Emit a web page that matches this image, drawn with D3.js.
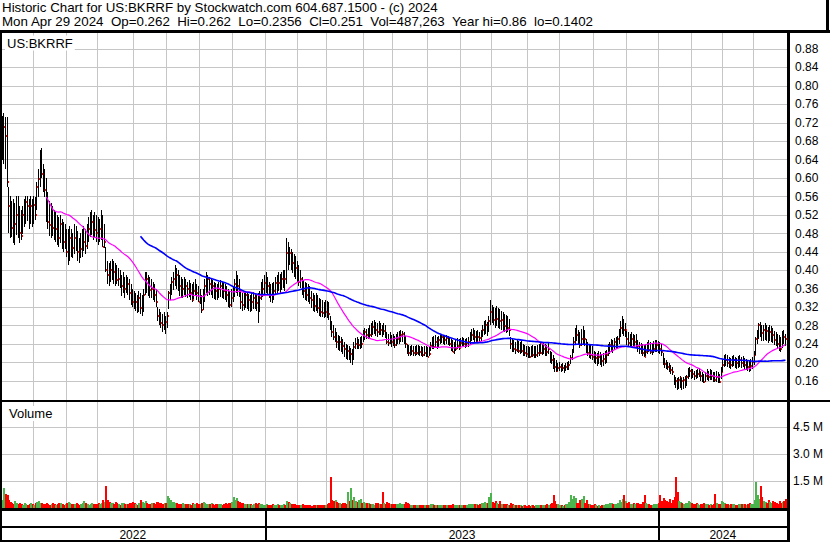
<!DOCTYPE html>
<html>
<head>
<meta charset="utf-8">
<script src="https://cdn.jsdelivr.net/npm/d3@7"></script>
<style>
  body { margin: 0; background: #fff; }
  svg { display: block; font-family: Arial, "Liberation Sans", sans-serif; }
  text { white-space: pre; }
</style>
</head>
<body>
<svg id="chart" width="830" height="543"></svg>
<script>
// trading calendar (first and last bar, market holidays)
const firstDay = "2022-05-02";
const lastDay = "2024-04-29";
const holidays = ["2022-05-30","2022-06-20","2022-07-04","2022-09-05","2022-11-24","2022-12-26",
  "2023-01-02","2023-01-16","2023-02-20","2023-04-07","2023-05-29","2023-06-19","2023-07-04",
  "2023-09-04","2023-11-23","2023-12-25","2024-01-01","2024-01-15","2024-02-19","2024-03-29"];

// daily prices, in thousandths of a dollar
const high = [
  725,735,740,732,732,580,560,550,555,545, 560,560,540,530,540,555,560,560,555,560,
  555,560,558,590,620,660,665,630,620,600, 570,550,545,540,530,525,520,515,520,510,
  505,500,490,490,495,490,480,500,495,485, 470,480,490,495,490,500,515,525,530,520,
  525,520,515,510,530,520,500,450,420,415, 420,425,420,415,410,405,400,390,395,385,
  390,385,380,370,360,355,350,345,355,350, 345,360,395,395,390,385,380,375,370,360,
  320,315,310,305,310,300,310,355,370,385, 395,410,405,400,390,385,380,385,380,375,
  378,372,370,375,380,370,365,360,345,360, 380,396,390,385,380,378,375,372,370,375,
  378,375,372,370,365,360,355,360,365,380, 398,390,380,355,350,352,355,350,348,345,
  350,352,350,345,350,355,375,380,390,396, 385,375,370,372,375,385,390,396,392,395,
  400,400,470,460,450,445,440,435,430,420, 410,400,385,378,375,372,370,365,355,350,
  345,350,345,340,338,335,330,335,332,330, 300,290,280,275,265,260,258,255,250,245,
  240,238,235,232,230,245,252,255,250,255, 258,270,275,272,275,280,285,290,292,288,
  285,290,285,282,285,280,265,262,265,260, 262,258,262,265,268,270,268,265,258,240,
  238,236,237,235,236,237,238,236,235,234, 236,235,233,235,245,255,258,260,255,258,
  260,262,260,258,260,258,255,250,248,245, 250,252,250,252,254,252,250,252,255,265,
  272,275,270,268,270,265,270,280,290,292, 288,300,335,325,320,318,322,318,315,312,
  310,305,302,300,295,255,250,248,245,248, 247,245,246,240,238,236,235,234,236,237,
  235,236,238,240,242,240,242,240,238,242, 225,222,215,210,205,198,200,196,198,195,
  198,200,202,215,228,255,275,280,270,265, 272,278,270,250,245,240,238,235,225,222,
  220,225,222,218,220,225,227,240,245,250, 248,252,255,258,272,290,300,295,285,268,
  265,262,266,262,260,262,248,245,242,240, 238,240,245,248,245,242,246,248,249,247,
  245,240,220,210,205,200,198,195,190,172, 168,165,168,170,166,168,170,172,188,190,
  186,185,182,184,186,188,180,178,175,180, 185,182,186,184,180,178,182,180,175,190,
  205,215,218,215,212,210,214,216,212,210, 213,215,212,214,210,208,205,204,208,212,
  225,255,270,285,288,280,282,286,280,276, 280,278,275,268,265,262,260,255,268,270,
  262];
const low = [
  617,640,630,620,580,480,470,472,460,455, 475,470,460,465,480,495,500,505,490,500,
  495,500,508,530,560,580,600,570,560,505, 490,475,470,475,465,460,455,450,460,445,
  440,445,430,412,420,430,425,435,440,420, 415,425,430,440,435,445,460,470,475,465,
  470,462,455,460,465,450,448,395,370,365, 375,380,370,365,368,365,360,345,350,340,
  350,345,335,325,320,315,310,305,310,305, 300,310,345,350,345,340,338,335,330,320,
  290,280,275,265,270,262,275,315,335,345, 355,365,360,355,345,340,338,345,340,340,
  342,335,332,338,345,335,330,328,307,315, 330,350,345,345,345,340,338,335,335,340,
  342,340,338,335,330,322,318,320,330,340, 350,345,342,315,310,312,318,315,312,308,
  310,315,315,310,285,310,335,340,345,350, 345,340,330,328,335,345,350,355,350,355,
  360,355,370,400,410,400,395,385,380,375, 365,360,345,340,335,332,330,325,318,312,
  308,310,305,300,298,298,295,298,296,290, 270,255,248,245,230,228,225,222,218,212,
  208,205,205,200,196,205,228,230,228,230, 232,245,250,250,252,252,255,260,262,258,
  255,260,258,255,258,252,238,235,238,235, 236,233,235,238,240,245,244,240,232,218,
  215,214,215,213,214,215,216,214,213,212, 214,212,211,213,225,228,230,232,230,232,
  240,242,240,238,240,238,235,225,222,220, 225,228,226,232,234,232,230,232,234,240,
  245,248,245,244,245,243,246,255,260,262, 258,265,280,285,280,275,278,275,272,270,
  268,265,262,265,258,228,222,222,220,222, 221,220,220,215,214,212,210,210,212,212,
  210,211,213,215,218,216,218,215,214,218, 200,195,185,180,178,180,180,178,180,178,
  180,182,183,195,205,220,240,245,238,230, 235,240,235,220,215,210,208,205,198,195,
  192,196,194,190,192,196,198,215,218,222, 220,225,228,232,240,255,262,258,255,238,
  235,233,236,234,232,233,222,220,218,214, 212,214,218,222,218,216,220,222,224,222,
  220,215,195,188,185,182,178,176,172,150, 145,140,142,145,140,142,145,148,165,168,
  164,165,162,164,166,168,160,156,155,158, 162,160,163,162,158,156,158,156,155,165,
  178,190,192,190,188,186,190,192,189,186, 188,190,188,190,186,184,182,180,182,186,
  195,215,240,250,255,245,248,250,245,242, 246,244,242,238,235,230,225,222,232,240,
  236];
const close = [
  678,700,711,690,592,540,500,491,474,500, 520,513,480,475,520,530,548,540,530,540,
  535,541,520,580,597,620,608,590,573,515, 505,498,505,491,485,490,476,470,500,465,
  460,470,440,450,470,460,448,470,451,440, 433,445,451,460,453,470,490,500,505,490,
  487,480,472,490,500,451,460,400,390,378, 400,411,395,380,378,380,361,365,372,360,
  372,370,350,335,330,325,330,325,340,317, 320,345,389,380,370,357,360,350,345,330,
  300,292,285,280,290,288,300,351,360,375, 380,400,390,370,365,353,360,372,365,360,
  365,350,335,355,365,350,331,340,313,340, 365,375,380,370,372,365,360,355,350,360,
  365,358,355,350,345,335,324,340,350,370, 375,365,355,330,325,340,345,335,335,325,
  331,340,335,328,320,340,350,360,372,375, 365,360,345,341,355,372,375,372,372,380,
  385,380,437,436,437,425,415,410,404,390, 375,380,362,355,350,346,345,340,335,328,
  322,325,318,313,310,308,303,310,306,305, 285,265,256,260,245,240,245,241,235,230,
  222,225,215,218,212,234,240,235,238,245, 240,260,265,260,265,260,270,277,280,270,
  266,275,270,264,268,262,245,241,250,245, 240,237,245,250,255,260,262,250,240,225,
  220,222,225,220,218,220,225,222,218,216, 220,215,212,218,235,240,234,245,240,248,
  252,255,250,248,252,245,240,232,223,228, 230,235,232,241,245,240,237,242,245,255,
  260,262,256,258,255,252,258,270,277,280, 275,290,310,300,292,285,295,292,290,292,
  281,278,274,275,270,240,227,230,227,232, 225,228,225,225,220,218,215,212,218,215,
  212,215,220,222,220,225,228,227,222,230, 210,205,195,190,182,187,190,185,188,187,
  190,194,195,210,223,245,266,260,250,237, 250,255,250,235,220,225,216,212,209,210,
  205,212,205,204,208,212,215,230,237,240, 235,245,248,250,265,275,285,270,270,250,
  241,245,250,241,245,240,235,230,225,220, 212,222,230,227,223,225,230,234,238,235,
  228,222,205,197,195,190,185,183,180,162, 160,158,162,165,160,162,165,168,180,182,
  178,175,170,169,175,178,170,165,158,170, 172,168,175,170,165,162,168,165,158,180,
  195,209,205,198,200,195,202,205,201,198, 200,205,198,202,195,198,190,183,192,200,
  215,250,262,281,275,263,270,275,268,263, 265,268,260,248,245,240,235,230,263,255,
  251];
// daily volume, thousands of shares
const volume = [
  1300,450,1100,800,750,420,350,300,250,380,260,220,300,200,180,280,220,150,200,260,
  220,180,260,320,380,300,260,200,240,300,200,160,230,280,250,190,220,300,260,200,
  180,240,290,320,260,210,230,200,270,240,180,220,260,380,300,240,190,230,270,220,
  200,250,290,230,270,420,340,1250,450,340,300,260,240,320,280,220,180,260,300,210,
  240,200,280,300,340,260,220,180,290,450,320,280,380,300,240,210,260,300,220,340,
  360,300,260,240,300,270,650,550,420,340,320,300,260,240,210,230,280,220,200,250,
  220,190,260,240,210,270,230,200,300,340,280,240,220,200,260,230,190,210,240,220,
  200,180,230,260,220,270,300,340,600,450,550,380,320,300,260,240,220,200,230,210,
  190,220,260,200,300,240,210,180,170,200,170,150,190,220,180,160,210,190,150,170,
  200,180,380,330,270,230,250,210,190,170,180,160,200,170,150,140,180,160,130,170,
  150,140,180,160,190,170,150,140,210,260,1750,450,380,420,350,300,260,240,280,300,
  250,900,380,1100,450,600,380,350,420,480,300,350,280,260,300,250,220,200,180,260,
  300,220,250,900,280,240,350,280,240,220,200,240,220,200,280,240,200,220,320,260,
  210,180,160,150,170,140,160,180,150,140,170,160,150,180,210,240,190,170,150,160,
  140,160,180,150,170,140,160,190,210,180,160,150,170,140,160,180,150,170,200,220,
  230,200,250,210,190,230,260,290,330,300,280,600,850,350,300,400,280,250,380,220,
  240,220,200,190,170,280,240,190,160,140,170,150,130,160,140,120,150,130,140,160,
  130,150,140,170,160,190,180,160,200,190,240,300,700,400,250,200,180,150,130,160,
  200,250,350,700,500,650,550,300,280,450,500,650,300,420,250,200,180,160,200,150,
  130,160,120,140,180,200,220,250,300,260,220,200,250,300,450,350,500,700,400,300,
  350,250,200,300,220,280,300,250,200,350,700,300,250,200,180,160,200,220,250,300,
  750,400,550,450,400,350,500,300,450,600,1750,900,400,350,300,250,280,300,400,350,
  300,250,200,280,220,180,200,250,300,220,200,180,220,160,250,800,300,200,250,400,
  350,300,250,200,180,220,250,200,180,160,200,230,250,220,200,180,250,300,200,220,
  450,1450,700,500,1200,600,400,350,300,450,350,300,400,350,300,250,400,300,350,400,487];

const priceTicks = [0.16,0.20,0.24,0.28,0.32,0.36,0.40,0.44,0.48,0.52,0.56,0.60,0.64,0.68,0.72,0.76,0.80,0.84,0.88];
const volumeTicks = [1500, 3000, 4500];
const volumeTickLabels = ["1.5 M", "3.0 M", "4.5 M"];
const maPeriods = [30, 90];
const maColors = ["#ff00ff", "#0000ff"];
const symbol = "US:BKRRF";
const header1 = "Historic Chart for US:BKRRF by Stockwatch.com 604.687.1500 - (c) 2024";
const header2 = "Mon Apr 29 2024  Op=0.262  Hi=0.262  Lo=0.2356  Cl=0.251  Vol=487,263  Year hi=0.86  lo=0.1402";

// build trading days
const fmt = d3.timeFormat("%Y-%m-%d");
const parse = d3.timeParse("%Y-%m-%d");
const days = d3.timeDay.range(parse(firstDay), d3.timeDay.offset(parse(lastDay), 1))
  .filter(d => d.getDay() > 0 && d.getDay() < 6 && !holidays.includes(fmt(d)));

const W = 830, plotRight = 787;
const svg = d3.select("#chart");
svg.append("rect").attr("width", W).attr("height", 543).attr("fill", "#fff");

const x = d3.scaleLinear().domain([0, close.length - 1]).range([0.8, 785.5]);
const step = x(1) - x(0);
const yP = d3.scaleLinear().domain([160, 880]).range([380.8, 48.7]);
const yV = d3.scaleLinear().domain([0, 5000]).range([508, 418]);

// month starts
const monthStarts = days.map((d, i) => i).filter(i => i > 0 && days[i].getMonth() !== days[i - 1].getMonth());
const yearStarts = monthStarts.filter(i => days[i].getMonth() === 0);
const gx = i => Math.round(x(i) - step / 2) + 0.5;

const grid = svg.append("g").attr("stroke", "#c6c6c6").attr("stroke-width", 1).attr("shape-rendering", "crispEdges");
grid.selectAll(".hp").data(priceTicks).join("line")
  .attr("x1", 0).attr("x2", plotRight)
  .attr("y1", d => Math.round(yP(d * 1000)) + 0.5).attr("y2", d => Math.round(yP(d * 1000)) + 0.5);
grid.selectAll(".hv").data(volumeTicks).join("line")
  .attr("x1", 0).attr("x2", plotRight)
  .attr("y1", d => Math.round(yV(d)) + 0.5).attr("y2", d => Math.round(yV(d)) + 0.5);
grid.selectAll(".vp").data(monthStarts).join("line")
  .attr("x1", gx).attr("x2", gx).attr("y1", 32).attr("y2", 400);
grid.selectAll(".vv").data(monthStarts).join("line")
  .attr("x1", gx).attr("x2", gx).attr("y1", 402).attr("y2", 508);

// volume bars
svg.append("g").attr("shape-rendering", "crispEdges")
  .selectAll("rect").data(volume).join("rect")
  .attr("x", (d, i) => Math.floor(x(i))).attr("width", 2)
  .attr("y", d => yV(d)).attr("height", d => yV(0) - yV(d))
  .attr("fill", (d, i) => i > 0 && close[i] < close[i - 1] ? "#ff0000" : "#4cb44c");

// price bars: thin high-low line, then a small red close mark on its right, bar after bar
const marks = close.flatMap((c, i) => [{ i, k: "bar" }, { i, k: "cl" }]);
svg.append("g").attr("shape-rendering", "crispEdges")
  .selectAll("rect").data(marks).join("rect")
  .attr("x", d => Math.floor(x(d.i)) + (d.k === "bar" ? 0 : 1))
  .attr("width", 1)
  .attr("y", d => d.k === "bar" ? Math.round(yP(high[d.i])) : Math.round(yP(close[d.i])) - 1)
  .attr("height", d => d.k === "bar" ? Math.max(1, Math.round(yP(low[d.i]) - yP(high[d.i]))) : 2)
  .attr("fill", d => d.k === "bar" ? "#000" : "#ff0000");

// moving averages
maPeriods.forEach((n, k) => {
  const pts = close.map((c, i) => i < n - 1 ? null : [i, d3.mean(close.slice(i - n + 1, i + 1))]).filter(p => p);
  svg.append("path").datum(pts)
    .attr("fill", "none").attr("stroke", maColors[k]).attr("stroke-width", k ? 1.6 : 1.2)
    .attr("d", d3.line().x(p => x(p[0])).y(p => yP(p[1])));
});

// axes
const pAxis = svg.append("g").attr("transform", `translate(789,0)`)
  .call(d3.axisRight(yP).tickValues(priceTicks.map(v => v * 1000)).tickSize(0).tickPadding(6)
    .tickFormat(v => (v / 1000).toFixed(2)));
const vAxis = svg.append("g").attr("transform", `translate(789,0)`)
  .call(d3.axisRight(yV).tickValues(volumeTicks).tickSize(0).tickPadding(4)
    .tickFormat((v, i) => volumeTickLabels[i]));
[pAxis, vAxis].forEach(a => {
  a.select(".domain").remove();
  a.selectAll("text").attr("font-size", 12).attr("font-family", "Arial, 'Liberation Sans', sans-serif").attr("fill", "#000");
});

// panel labels on white
[[symbol, 7, 47.5], ["Volume", 9, 418]].forEach(([t, tx, ty]) => {
  const g = svg.append("g");
  const bg = g.append("rect").attr("fill", "#fff");
  const tt = g.append("text").attr("x", tx).attr("y", ty).attr("font-size", 13).text(t);
  const b = tt.node().getBBox();
  bg.attr("x", b.x - 2).attr("y", b.y).attr("width", b.width + 4).attr("height", b.height);
});

// header
svg.append("text").attr("x", 2).attr("y", 12).attr("font-size", 13.33).text(header1);
svg.append("text").attr("x", 2).attr("y", 25.5).attr("font-size", 13.33).text(header2);

// frame lines
const frame = svg.append("g").attr("fill", "#000").attr("shape-rendering", "crispEdges");
frame.append("rect").attr("x", 0).attr("y", 30).attr("width", W).attr("height", 2.5);
frame.append("rect").attr("x", 826).attr("y", 0).attr("width", 2.5).attr("height", 31);
frame.append("rect").attr("x", 0).attr("y", 399.5).attr("width", W).attr("height", 2.5);
frame.append("rect").attr("x", 0).attr("y", 508).attr("width", 790).attr("height", 2.5);
frame.append("rect").attr("x", 0).attr("y", 526).attr("width", 790).attr("height", 2);
frame.append("rect").attr("x", 0).attr("y", 539.5).attr("width", 790).attr("height", 2.5);
frame.append("rect").attr("x", 0).attr("y", 32).attr("width", 2).attr("height", 510);
frame.append("rect").attr("x", 787).attr("y", 32).attr("width", 3).attr("height", 510);
frame.selectAll(".yr").data(yearStarts).join("rect")
  .attr("x", i => gx(i) - 1).attr("y", 508).attr("width", 2).attr("height", 34);

// year labels
const bounds = [0, ...yearStarts.map(gx), plotRight];
svg.append("g").selectAll("text").data(bounds.slice(0, -1)).join("text")
  .attr("x", (b, i) => (b + bounds[i + 1]) / 2).attr("y", 538.5)
  .attr("text-anchor", "middle").attr("font-size", 12)
  .text((b, i) => String(days[0].getFullYear() + i));
</script>
</body>
</html>
